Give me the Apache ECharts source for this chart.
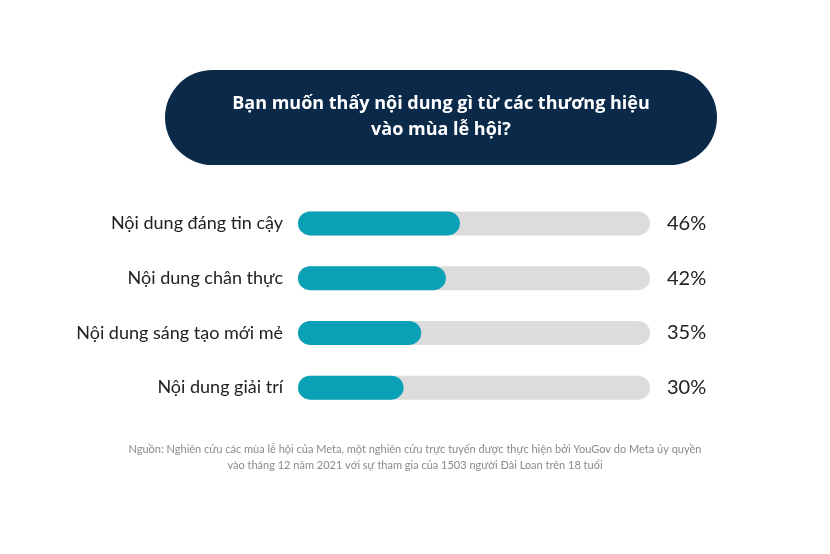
<!DOCTYPE html>
<html><head><meta charset="utf-8">
<script src="https://cdn.jsdelivr.net/npm/echarts@6/dist/echarts.min.js"></script>
<style>html,body{margin:0;padding:0;background:#fff}#c{width:830px;height:554px}</style>
</head><body><div id="c"></div>
<script>
const categories = ['Nội dung đáng tin cậy','Nội dung chân thực','Nội dung sáng tạo mới mẻ','Nội dung giải trí'];
const values = [46, 42, 35, 30];
const trackValues = [100, 100, 100, 100];
const chart = echarts.init(document.getElementById('c'));
chart.setOption({
  backgroundColor:'#fff',
  animation:false,
  grid:{left:298,right:180,top:196,bottom:139},
  xAxis:{type:'value',min:0,max:100,show:false},
  yAxis:{type:'category',data:categories,inverse:true,
    axisLine:{show:false},axisTick:{show:false},
    axisLabel:{margin:15,fontSize:18,color:'#222',fontFamily:'Lato'}},
  series:[
    {type:'bar',data:trackValues,barWidth:24,barGap:'-100%',silent:true,
     itemStyle:{color:'#dcdcdc',borderRadius:12},
     label:{show:true,position:'right',distance:17,fontSize:20,color:'#222',fontFamily:'Lato',
       formatter:p=>values[p.dataIndex]+'%'}},
    {type:'bar',data:values,barWidth:24,itemStyle:{color:'#0aa0b5',borderRadius:12}}
  ],
  graphic:[
    {type:'rect',shape:{x:165,y:70,width:552,height:95,r:47.5},style:{fill:'#0b2a4a'}},
    {type:'text',x:441,y:117,style:{text:'Bạn muốn thấy nội dung gì từ các thương hiệu\nvào mùa lễ hội?',
      fill:'#fff',font:'bold 18px "Open Sans"',align:'center',verticalAlign:'middle',lineHeight:26}},
    {type:'text',x:415,y:457,style:{text:'Nguồn: Nghiên cứu các mùa lễ hội của Meta, một nghiên cứu trực tuyến được thực hiện bởi YouGov do Meta ủy quyền\nvào tháng 12 năm 2021 với sự tham gia của 1503 người Đài Loan trên 18 tuổi',
      fill:'#8a8a8a',font:'11px Lato',align:'center',verticalAlign:'middle',lineHeight:16}}
  ]
});
</script></body></html>
